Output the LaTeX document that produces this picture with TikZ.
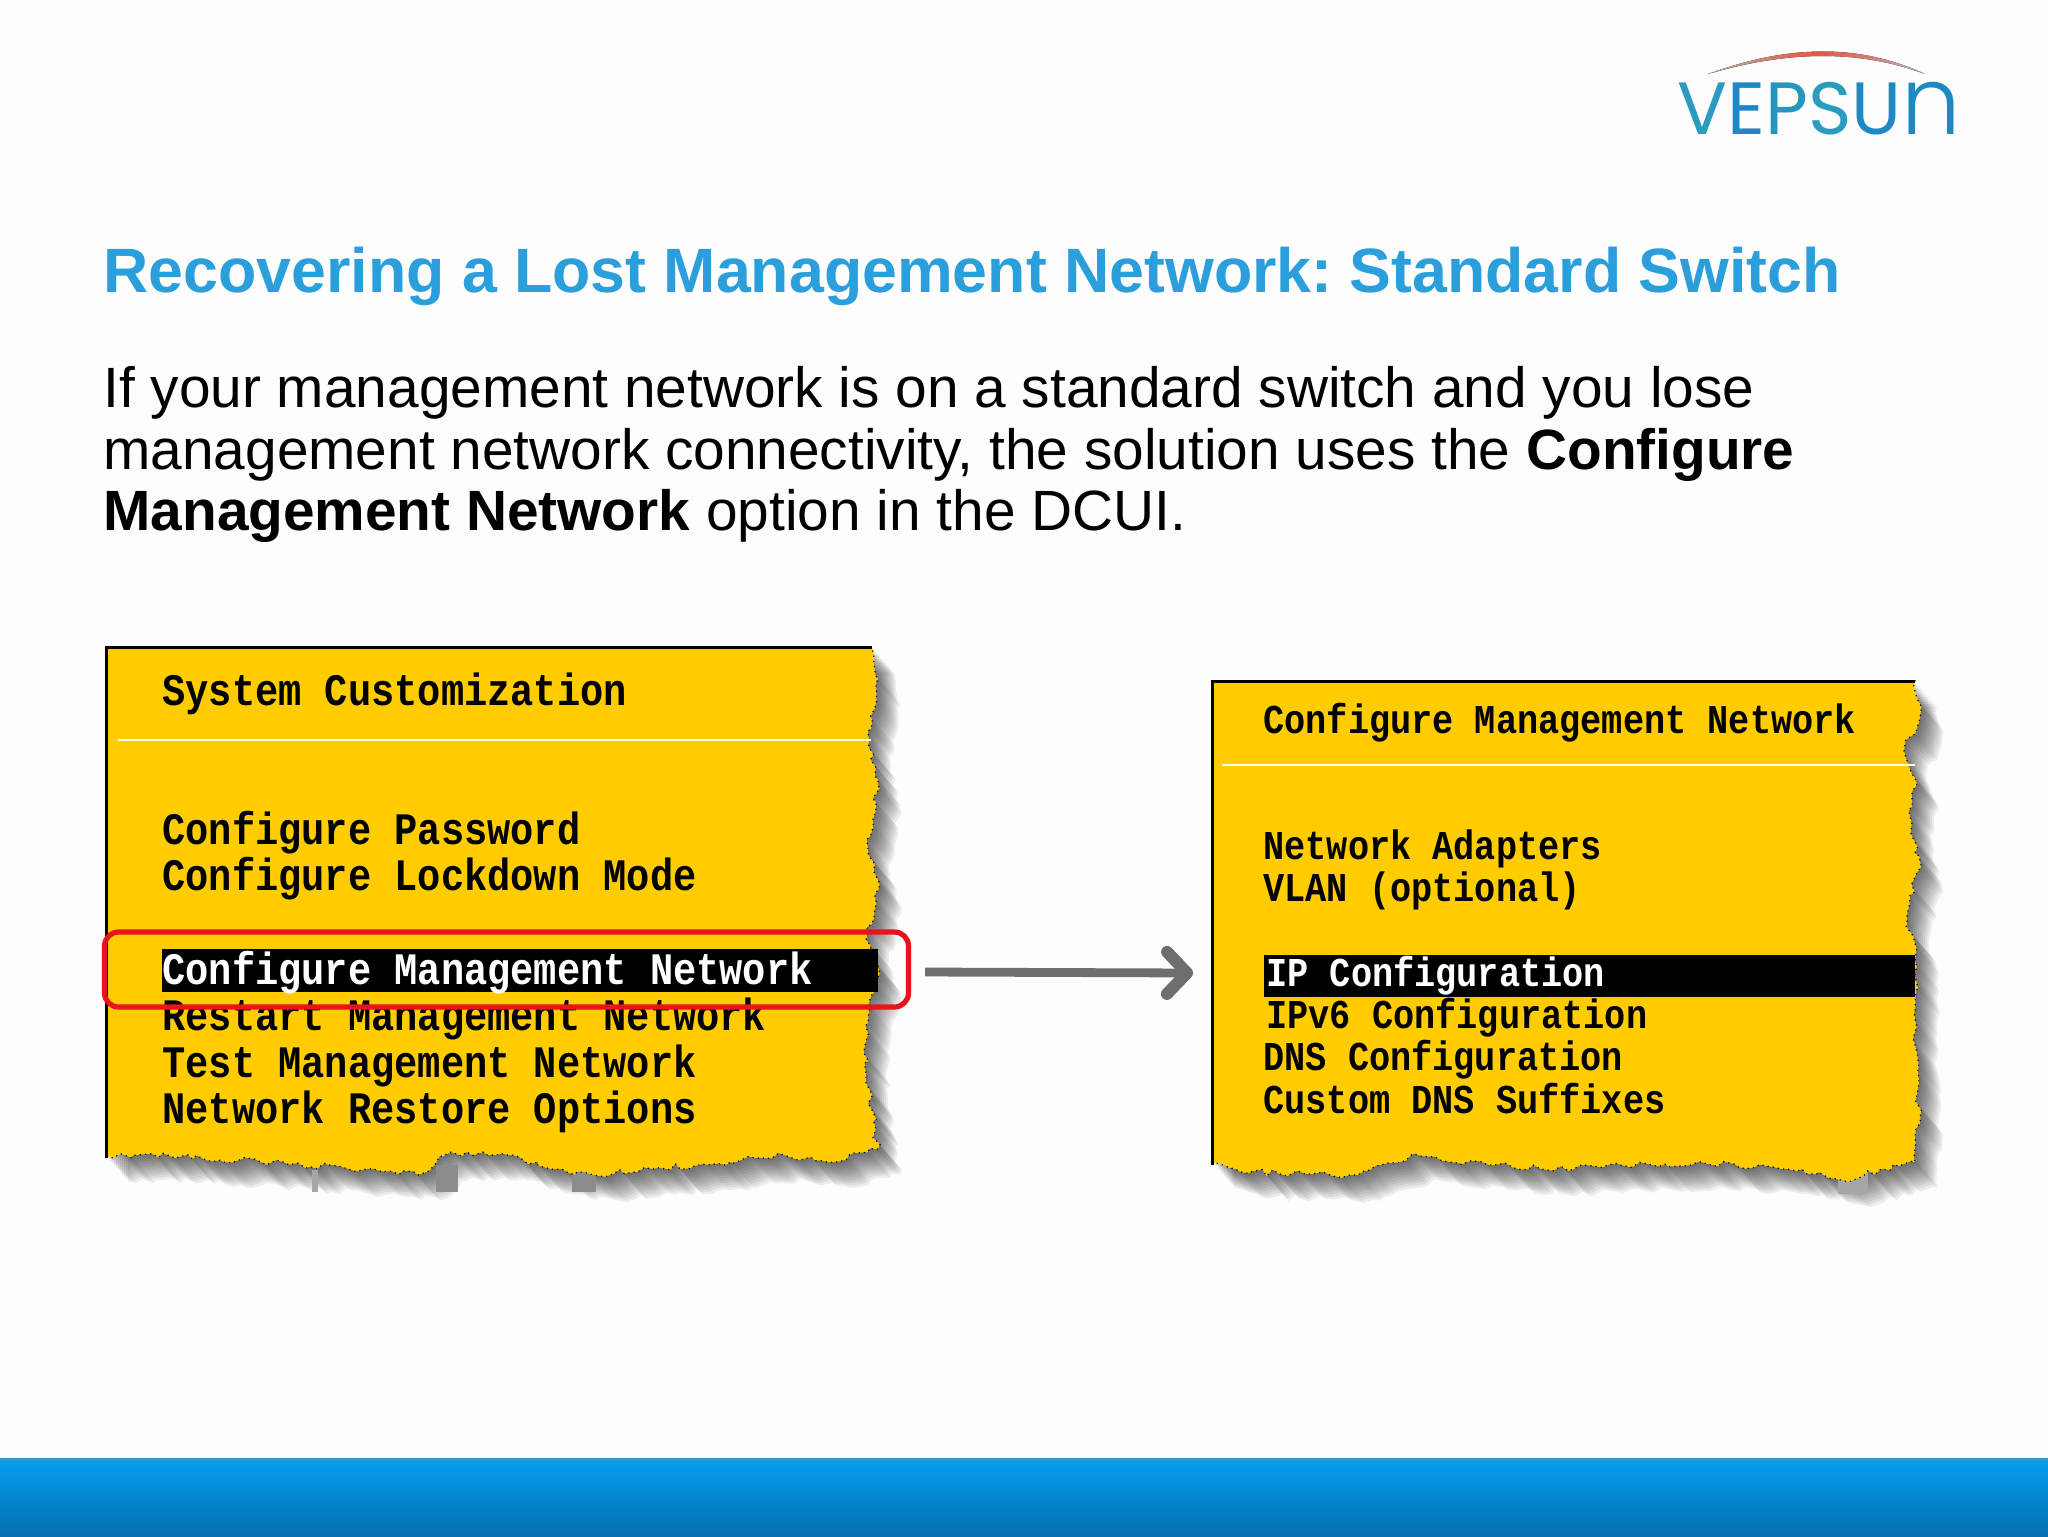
\documentclass[tikz,border=0pt]{standalone}
\usepackage{fontspec}
\setmainfont{Liberation Sans}
\newfontfamily\dcuifont[FakeStretch=0.86]{Liberation Mono}
\newfontfamily\logofont{Poppins}
\newfontfamily\logolight{Poppins Light}
\usetikzlibrary{decorations.pathmorphing,arrows.meta}
\definecolor{titleblue}{HTML}{2A9FDB}
\definecolor{panelyellow}{HTML}{FFCC00}
\definecolor{arrowgray}{HTML}{6E6E72}
\definecolor{boxred}{HTML}{E8141C}
\definecolor{bgwhite}{HTML}{FDFDFD}
\definecolor{footA}{HTML}{049EEE}
\definecolor{footB}{HTML}{0470B0}
\definecolor{footline}{HTML}{2A9AD0}
\definecolor{arcred}{HTML}{E8553F}
\definecolor{logoA}{HTML}{2B9CC0}
\definecolor{logoB}{HTML}{1E88C4}
\definecolor{logoC}{HTML}{2596BE}
\tikzset{
  jag/.style={decoration={random steps,segment length=3.5pt,amplitude=1.7pt}},
  titletext/.style={anchor=base west,inner sep=0,font=\fontsize{31.33}{36}\selectfont\bfseries\frenchspacing,text=titleblue},
  bodytext/.style={anchor=base west,inner sep=0,font=\fontsize{28.4}{32}\selectfont\frenchspacing,text=black},
  menuA/.style={anchor=base west,inner sep=0,font=\fontsize{22.5}{26}\dcuifont\bfseries,text=black},
  menuB/.style={anchor=base west,inner sep=0,font=\fontsize{20.5}{24}\dcuifont\bfseries,text=black},
  logotext/.style={anchor=base west,inner sep=0,font=\fontsize{37}{40}\logofont,text=logoB},
  sep/.style={draw=white!95!yellow,line width=1.3pt},
  bar/.style={fill=black}
}
\def\leftjag{(106,647) -- (872,647) decorate[jag] { -- (878,679) -- (868,731) -- (878,784) -- (868,849) -- (879,888) -- (866,940) -- (878,966) -- (865,1045) -- (872,1110) -- (878,1149) -- (836,1162) -- (784,1155) -- (731,1162) -- (653,1169) -- (594,1175) -- (562,1169) -- (496,1155) -- (451,1152) -- (418,1175) -- (366,1169) -- (261,1162) -- (170,1156) -- (106,1156)} -- cycle}
\def\rightjag{(1212,681) -- (1915,681) decorate[jag] { -- (1920,718) -- (1904,751) -- (1917,784) -- (1909,810) -- (1920,862) -- (1907,914) -- (1917,966) -- (1915,1045) -- (1920,1123) -- (1915,1162) -- (1881,1169) -- (1848,1182) -- (1802,1169) -- (1698,1162) -- (1541,1169) -- (1410,1156) -- (1358,1175) -- (1241,1172) -- (1212,1162)} -- cycle}
\begin{document}
\begin{tikzpicture}[x=0.5pt,y=-0.5pt]
\useasboundingbox (0,0) rectangle (2048,1536);
\fill[bgwhite] (0,0) rectangle (2048,1536);
% footer
\fill[top color=footA,bottom color=footB] (0,1459) rectangle (2048,1536);
\fill[footline] (0,1458) rectangle (2048,1461);
% logo
\fill[left color=black!30,right color=black!30,middle color=arcred] (1708,74) .. controls (1790,44) and (1860,44) .. (1925,74) .. controls (1860,50) and (1790,50) .. (1708,74) -- cycle;
\node[logotext] (logo) at (1677,134) {\textcolor{logoA}{V}E\textcolor{logoC}{P}\textcolor{logoA}{S}U{\fontsize{47}{47}\logolight n}};
% title and body
\node[titletext] (title) at (103,292) {Recovering a Lost Management Network: Standard Switch};
\node[bodytext] (b1) at (103,407) {If your management network is on a standard switch and you lose};
\node[bodytext] (b2) at (103,469) {management network connectivity, the solution uses the \textbf{Configure}};
\node[bodytext] (b3) at (103,530) {\textbf{Management Network} option in the DCUI.};
% left panel shadow
\foreach \d in {2,4,...,22}{
  \pgfmathsetseed{11}
  \fill[black,opacity=.065,shift={(\d,1.15*\d)}] \leftjag;
}
\fill[black!45] (436,1165) rectangle (458,1192);
\fill[black!45] (572,1165) rectangle (596,1192);
\fill[black!35] (312,1170) rectangle (318,1192);
% left panel
\pgfmathsetseed{11}
\fill[panelyellow] \leftjag;
\pgfmathsetseed{11}
\draw[black,line width=.6pt,dotted] \leftjag;
\draw[black,line width=1.5pt] (106,1158) -- (106,647) -- (872,647);
\draw[sep] (118,740) -- (871,740);
\fill[bar] (162,949) rectangle (878,992);
\node[menuA] (a0) at (162,705) {System Customization};
\node[menuA] (a1) at (162,844) {Configure Password};
\node[menuA] (a2) at (162,890) {Configure Lockdown Mode};
\node[menuA,text=white] (a3) at (162,984) {Configure Management Network};
\node[menuA] (a4) at (162,1030) {Restart Management Network};
\node[menuA] (a5) at (162,1077) {Test Management Network};
\node[menuA] (a6) at (162,1123) {Network Restore Options};
% red highlight
\node[draw=boxred,line width=2.6pt,rounded corners=7pt,minimum width=402pt,minimum height=37.5pt,inner sep=0] (hl) at (506.5,969.5) {};
% right panel shadow
\foreach \d in {2,4,...,22}{
  \pgfmathsetseed{23}
  \fill[black,opacity=.065,shift={(\d,1.15*\d)}] \rightjag;
}
\fill[black!35] (1838,1170) rectangle (1868,1194);
% right panel
\pgfmathsetseed{23}
\fill[panelyellow] \rightjag;
\pgfmathsetseed{23}
\draw[black,line width=.6pt,dotted] \rightjag;
\draw[black,line width=1.5pt] (1212,1165) -- (1212,681) -- (1915,681);
\draw[sep] (1222,765) -- (1915,765);
\fill[bar] (1264,955) rectangle (1915,997);
\node[menuB] (c0) at (1263,733) {Configure Management Network};
\node[menuB] (c1) at (1263,859) {Network Adapters};
\node[menuB] (c2) at (1263,901) {VLAN (optional)};
\node[menuB,text=white] (c3) at (1266,986) {IP Configuration};
\node[menuB] (c4) at (1266,1028) {IPv6 Configuration};
\node[menuB] (c5) at (1263,1070) {DNS Configuration};
\node[menuB] (c6) at (1263,1113) {Custom DNS Suffixes};
% arrow
\coordinate (arrS) at (925,972);
\coordinate (arrE) at (1193,973);
\draw[arrowgray,line width=4.4pt,-{Straight Barb[length=10pt,width=21pt,round,line width=6pt]}] (arrS) -- (arrE);
\end{tikzpicture}
\end{document}
